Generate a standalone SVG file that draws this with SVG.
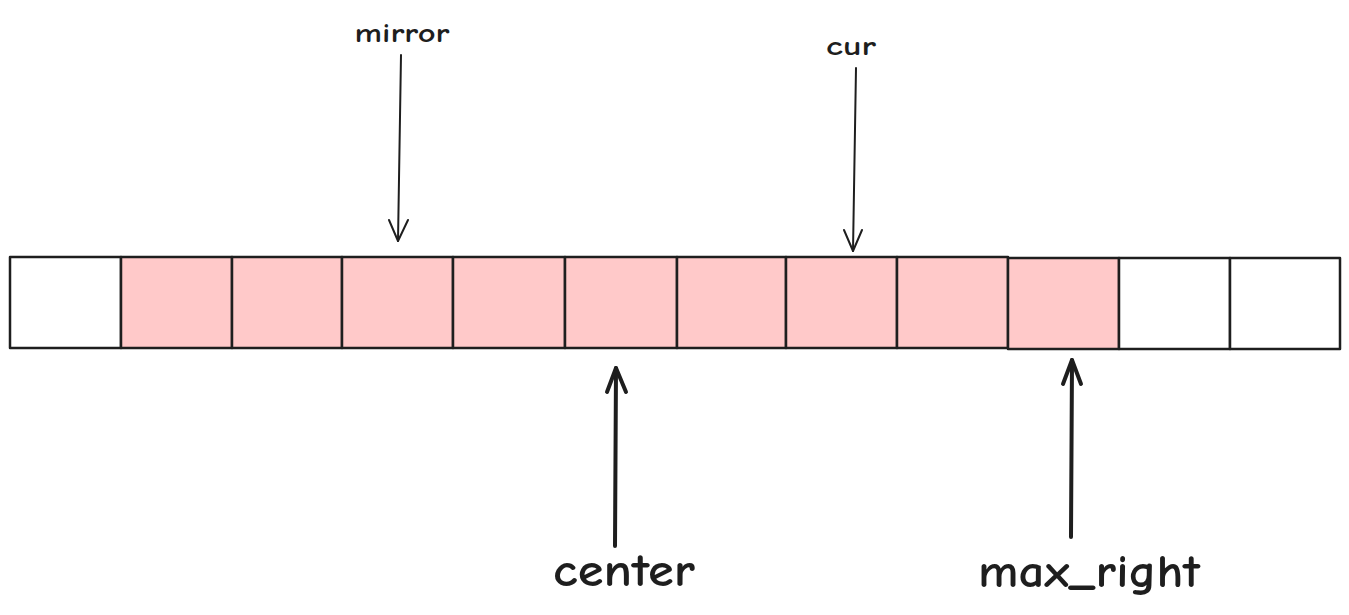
<svg xmlns="http://www.w3.org/2000/svg" width="1349" height="615" viewBox="0 0 1349 615">
<defs>
<style>
.cell{stroke:#1e1e1e;stroke-width:2.5;stroke-linejoin:round}
.pink{fill:#ffc9c9}
.white{fill:#ffffff}
.lbl{font-family:"Comic Neue","Noto Sans",sans-serif;fill:#1e1e1e;text-anchor:middle}
.thin{stroke:#1e1e1e;stroke-width:2;fill:none;stroke-linecap:round;stroke-linejoin:round}
.thick{stroke:#1e1e1e;stroke-width:4;fill:none;stroke-linecap:round;stroke-linejoin:round}
</style>
</defs>
<rect width="1349" height="615" fill="#ffffff"/>
<g id="cells">
<g id="cell0"><rect class="cell white" x="10" y="257" width="111" height="91"/></g>
<g id="cell1"><rect class="cell pink" x="121" y="257" width="111" height="91"/></g>
<g id="cell2"><rect class="cell pink" x="232" y="257" width="110" height="91"/></g>
<g id="cell3"><rect class="cell pink" x="342" y="257" width="111" height="91"/></g>
<g id="cell4"><rect class="cell pink" x="453" y="257" width="112" height="91"/></g>
<g id="cell5"><rect class="cell pink" x="565" y="257" width="112" height="91"/></g>
<g id="cell6"><rect class="cell pink" x="677" y="257" width="109" height="91"/></g>
<g id="cell7"><rect class="cell pink" x="786" y="257" width="111" height="91"/></g>
<g id="cell8"><rect class="cell pink" x="897" y="257" width="111" height="91"/></g>
<g id="cell9"><rect class="cell pink" x="1008" y="258" width="111" height="91"/></g>
<g id="cell10"><rect class="cell white" x="1119" y="258" width="111" height="91"/></g>
<g id="cell11"><rect class="cell white" x="1230" y="258" width="110" height="91"/></g>
</g>
<g id="connectors">
<g id="arrow-mirror"><path class="thin" d="M401 55 L398 241"/><path class="thin" d="M389 220 L398 241 L408 220"/></g>
<g id="arrow-cur"><path class="thin" d="M856 68 L853 251"/><path class="thin" d="M844 230 L853 251 L862 230"/></g>
<g id="arrow-center"><path class="thick" d="M615 546 L616 368"/><path class="thick" d="M607 392 L616 368 L626 392"/></g>
<g id="arrow-maxright"><path class="thick" d="M1071 537 L1072 360"/><path class="thick" d="M1063 384 L1072 360 L1081 384"/></g>
</g>
<g id="labels">
<g id="label-mirror"><text class="lbl" x="402" y="42" font-size="27" font-weight="bold" textLength="95" lengthAdjust="spacingAndGlyphs">mirror</text></g>
<g id="label-cur"><text class="lbl" x="851" y="55" font-size="27" font-weight="bold" textLength="50" lengthAdjust="spacingAndGlyphs">cur</text></g>
<g id="label-center"><text class="lbl" x="624" y="586" font-size="46" font-weight="bold" textLength="142" lengthAdjust="spacingAndGlyphs">center</text></g>
<g id="label-maxright"><text class="lbl" x="1089" y="587" font-size="46" font-weight="bold" textLength="222" lengthAdjust="spacingAndGlyphs">max_right</text></g>
</g>
</svg>
